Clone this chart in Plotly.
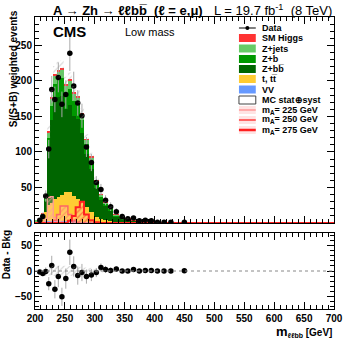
import numpy as np
import plotly.graph_objects as go

# bin edges (GeV) and contents
edges = [200, 205.5, 210.5, 215.5, 220.5, 225.5, 230.5, 236, 242, 248, 255, 261.5, 268,
         275, 282, 290, 298.5, 306.5, 314, 322, 331, 341, 350.5, 360, 369.5, 379.5,
         389.5, 399.5, 410, 421.5, 433, 444, 455.5]

data = [None, 4, 9, 38, 104, 188, 174, 205, 167, 181, 239, 193, 169, 151, 107, 85, 57,
        47, 32, 23, 16, 9, 6, 7, 3, 4, 3, 1, 1, 1, None, 1]
data_err = [None, 3, 5, 8, 13, 19, 18, 21, 18, 20, 25, 20, 18, 17, 14, 12, 9, 8, 7, 6,
            5, 4, 3, 3, 2, 2.5, 2, 1.5, 1.5, 1.5, None, 1.5]

vv = [0.2, 0.5, 1.5, 3, 3.5, 3.5, 3.5, 3.5, 3, 3, 3, 2.5, 2, 1.5, 1.2, 1, 0.6, 0.4, 0.3,
      0.2, 0.15, 0.1, 0.1, 0.05, 0.05, 0.05, 0.03, 0.02, 0.02, 0.02, 0.01, 0.01]
ttbar = [0.5, 1.5, 4, 13, 22, 24, 30, 33, 37, 40, 40, 36, 32, 28, 22, 14, 8, 5, 3.5, 2.5,
         1.5, 1, 0.8, 0.5, 0.4, 0.3, 0.2, 0.1, 0.1, 0.1, 0.05, 0.05]
zbb = [1.5, 2.6, 5.8, 14.5, 79.3, 117.7, 138.3, 140.2, 138.7, 118, 123, 112.7, 112.4,
       97.1, 73.8, 61.2, 40.9, 27.3, 20, 15.35, 8.05, 6.25, 4.05, 2.72, 1.98, 2.08, 1.36,
       0.87, 0.7, 0.54, 0.44, 0.36]
zb = [0.5, 0.8, 1.5, 5, 15, 20, 24, 25, 25, 22, 23, 21, 20, 18, 14, 11, 7, 5, 3.5, 2.6,
      1.5, 1.1, 0.7, 0.5, 0.4, 0.4, 0.3, 0.15, 0.12, 0.1, 0.07, 0.06]
zjets = [0.3, 0.5, 1, 3, 8, 10, 12, 12, 12, 11, 11, 10, 10, 8, 6, 5, 3, 2, 1.5, 1.2, 0.7,
         0.5, 0.3, 0.2, 0.15, 0.15, 0.1, 0.05, 0.05, 0.04, 0.03, 0.02]
smh = [0, 0.1, 0.2, 0.5, 1.2, 1.8, 2.2, 2.3, 2.3, 2, 2, 1.8, 1.6, 1.4, 1, 0.8, 0.5, 0.3,
       0.2, 0.15, 0.1, 0.05, 0.05, 0.03, 0.02, 0.02, 0.01, 0.01, 0.01, 0, 0, 0]
mc_unc = [0.5, 1, 2, 4, 9, 10, 11, 11, 11, 10, 10, 9, 9, 8, 7, 6, 4, 3, 2, 1.5, 1, 0.8,
          0.6, 0.4, 0.3, 0.3, 0.2, 0.1, 0.1, 0.1, 0.1, 0.1]

sig225 = [0, 0, 1, 6, 36, 37, 8, 3, 1, 0, 0, 0, 0, 0, 0, 0, 0, 0, 0, 0, 0, 0, 0, 0, 0, 0,
          0, 0, 0, 0, 0, 0]
sig250 = [0, 0, 0, 0, 0, 0, 4, 12, 24, 24, 12, 4, 1, 0, 0, 0, 0, 0, 0, 0, 0, 0, 0, 0, 0,
          0, 0, 0, 0, 0, 0, 0]
sig275 = [0, 0, 0, 0, 0, 0, 0, 0, 0, 0, 3, 10, 22, 30, 12, 4, 1, 0, 0, 0, 0, 0, 0, 0, 0,
          0, 0, 0, 0, 0, 0, 0]

edges = np.array(edges)
centers = (edges[:-1] + edges[1:]) / 2
widths = edges[1:] - edges[:-1]

# pixel -> paper helpers (plot area 35..337 x 17..309)
def px(x):
    return (x - 35) / 302

def py(y):
    return (309 - y) / 292

FONT = "Liberation Sans, Arial, sans-serif"
fig = go.Figure()

# stacked backgrounds, bottom to top
stack = [("VV", vv, "#6699ff"), ("t, tt", ttbar, "#ffcc33"), ("Z+bb", zbb, "#006600"),
         ("Z+b", zb, "#009900"), ("Z+jets", zjets, "#66cc66"), ("SM Higgs", smh, "#ff3333")]
base = np.zeros(len(centers))
for name, vals, col in stack:
    vals = np.array(vals)
    fig.add_trace(go.Bar(x=centers, y=vals, base=base, width=widths, marker_color=col,
                         marker_line_width=0, name=name, xaxis="x", yaxis="y"))
    base = base + vals
total = base

# signal histograms (hatched, outlined)
edges_all = list(edges) + [700]
for vals, col, lw in [(sig225, "#ff9999", 1.2), (sig250, "#ff6666", 1.5), (sig275, "#ff2020", 2)]:
    yy = list(vals) + [0, 0]
    fig.add_trace(go.Scatter(x=edges_all, y=yy, mode="lines", line=dict(color=col, width=lw, shape="hv"),
                             fill="tozeroy", fillcolor="rgba(255,180,180,0.25)",
                             fillpattern=dict(shape="/", fgcolor=col, bgcolor="rgba(255,200,200,0.3)",
                                              size=4, solidity=0.3),
                             xaxis="x", yaxis="y"))

# data points
fig.add_trace(go.Scatter(x=centers, y=data, mode="markers",
                         marker=dict(color="black", size=5.5),
                         error_y=dict(type="data", array=data_err, color="#aaaaaa", thickness=1, width=0),
                         xaxis="x", yaxis="y"))

# MC uncertainty band (hatched)
def band(lo, hi):
    xs, ys = [], []
    for i in range(len(centers)):
        xs += [edges[i], edges[i + 1]]
        ys += [hi[i], hi[i]]
    for i in reversed(range(len(centers))):
        xs += [edges[i + 1], edges[i]]
        ys += [lo[i], lo[i]]
    return xs, ys

unc = np.array(mc_unc)
bx, by = band(total - unc, total + unc)
fig.add_trace(go.Scatter(x=bx, y=by, mode="lines", line=dict(width=0), fill="toself",
                         fillcolor="rgba(0,0,0,0)",
                         fillpattern=dict(shape="/", fgcolor="rgba(140,140,140,0.8)",
                                          bgcolor="rgba(0,0,0,0)", size=4, solidity=0.25),
                         xaxis="x", yaxis="y"))

# lower panel: data - background
resid = [None if d is None else d - t for d, t in zip(data, total)]
fig.add_shape(type="line", x0=200, x1=700, y0=0, y1=0, xref="x2", yref="y2",
              line=dict(color="#888888", width=1, dash="dot"))
fig.add_trace(go.Scatter(x=centers, y=resid, mode="markers",
                         marker=dict(color="black", size=5.5),
                         error_y=dict(type="data", array=data_err, color="#aaaaaa", thickness=1, width=0),
                         xaxis="x2", yaxis="y2"))
bx2, by2 = band(-unc, unc)
fig.add_trace(go.Scatter(x=bx2, y=by2, mode="lines", line=dict(width=0), fill="toself",
                         fillcolor="rgba(0,0,0,0)",
                         fillpattern=dict(shape="/", fgcolor="rgba(140,140,140,0.8)",
                                          bgcolor="rgba(0,0,0,0)", size=4, solidity=0.25),
                         xaxis="x2", yaxis="y2"))

# axes
ax = dict(showgrid=False, zeroline=False, showline=True, linecolor="black", linewidth=1,
          mirror="allticks", ticks="inside", ticklen=7, tickcolor="black",
          tickfont=dict(family=FONT, size=10, color="black", weight="bold"))
fig.update_layout(
    xaxis=dict(ax, range=[200, 700], dtick=50, showticklabels=False, anchor="y",
               minor=dict(dtick=10, ticklen=4, ticks="inside", tickcolor="black")),
    yaxis=dict(ax, range=[0, 290], dtick=50, domain=[py(223), 1], anchor="x",
               minor=dict(dtick=10, ticklen=4, ticks="inside", tickcolor="black")),
    xaxis2=dict(ax, range=[200, 700], dtick=50, anchor="y2", matches="x",
                minor=dict(dtick=10, ticklen=4, ticks="inside", tickcolor="black")),
    yaxis2=dict(ax, range=[-75, 75], tickvals=[-50, 0, 50], domain=[0, py(233)], anchor="x2",
                minor=dict(dtick=10, ticklen=4, ticks="inside", tickcolor="black")),
    barmode="overlay", bargap=0, showlegend=False,
    width=355, height=344, margin=dict(l=35, r=18, t=17, b=35),
    paper_bgcolor="white", plot_bgcolor="white",
    font=dict(family=FONT, color="black"),
)

ann = []
def text(x, y, s, size, bold=True, xanchor="left", angle=0):
    ann.append(dict(x=px(x), y=py(y), xref="paper", yref="paper", text=s, showarrow=False,
                    xanchor=xanchor, yanchor="middle", textangle=angle,
                    font=dict(family=FONT, size=size, color="black",
                              weight="bold" if bold else "normal")))

text(51, 10, "A \u2192 Zh \u2192 \u2113\u2113bb\u0305  (\u2113 = e,\u03bc)", 13)
text(337, 10, "L = 19.7 fb<sup>-1</sup>  (8 TeV)", 13, bold=False, xanchor="right")
text(51, 32, "CMS", 15)
text(124, 32, "Low mass", 11, bold=False)
text(13, 69, "S/(S+B) weighted events", 10, xanchor="center", angle=-90)
text(6, 255, "Data - Bkg", 10, xanchor="center", angle=-90)
text(337, 331, "<span style='font-size:13px'>m</span><sub>\u2113\u2113bb</sub> [GeV]", 10, xanchor="right")

# legend drawn by hand
rows = [28, 38, 48.5, 59, 69, 79, 89.5, 100, 110, 120, 130]
labels = ["Data", "SM Higgs", "Z+jets", "Z+b", "Z+bb\u0305", "t, tt\u0305", "VV",
          "MC stat\u2295syst", "m<sub>A</sub>= 225 GeV", "m<sub>A</sub>= 250 GeV", "m<sub>A</sub>= 275 GeV"]
for yy, lab in zip(rows, labels):
    text(262, yy, lab, 9)

shapes = []
def rect(y, fill, line="rgba(0,0,0,0)", lw=0):
    shapes.append(dict(type="rect", xref="paper", yref="paper", x0=px(241), x1=px(258),
                       y0=py(y + 4), y1=py(y - 4), fillcolor=fill, line=dict(color=line, width=lw)))

shapes.append(dict(type="line", xref="paper", yref="paper", x0=px(241), x1=px(258),
                   y0=py(28), y1=py(28), line=dict(color="black", width=1)))
shapes.append(dict(type="circle", xref="paper", yref="paper", x0=px(247.5), x1=px(251.5),
                   y0=py(30), y1=py(26), fillcolor="black", line=dict(width=0)))
rect(38, "#ff3333")
rect(48.5, "#66cc66")
rect(59, "#009900")
rect(69, "#006600")
rect(79, "#ffcc33")
rect(89.5, "#6699ff")
rect(100, "white", "#444444", 1)
for yy, col, lw in [(110, "#ff9999", 1.5), (120, "#ff6666", 2), (130, "#ff2020", 2.5)]:
    rect(yy, "rgba(255,200,200,0.5)")
    shapes.append(dict(type="line", xref="paper", yref="paper", x0=px(241), x1=px(258),
                       y0=py(yy), y1=py(yy), line=dict(color=col, width=lw)))

fig.update_layout(annotations=ann, shapes=list(fig.layout.shapes) + shapes)
fig.write_html("out.html", config={"displayModeBar": False},
               post_script="document.body.style.margin='0px';")
